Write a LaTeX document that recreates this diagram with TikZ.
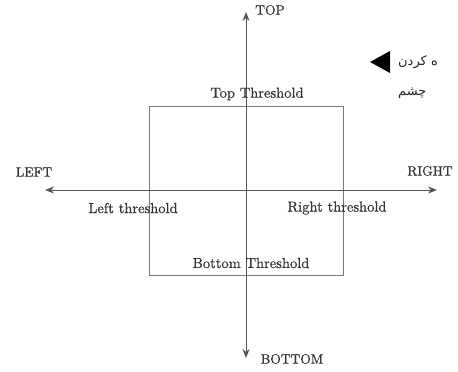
\documentclass[tikz,border=0pt]{standalone}
\usepackage{fontspec}
\usetikzlibrary{arrows.meta}
\TeXXeTstate=1
\newfontfamily\arabicfont[Script=Arabic]{DejaVu Sans}
\newfontfamily\lmheavy{lmroman10-regular.otf}[FakeBold=0.6]
\definecolor{axisgray}{HTML}{555555}
\definecolor{textgray}{HTML}{333333}
\begin{document}
\begin{tikzpicture}[x=1pt,y=-1pt,
  axis/.style={draw=axisgray,line width=1pt,-{Stealth[length=9pt,width=7pt]}},
  boxstyle/.style={draw=axisgray!80,line width=0.9pt,rectangle,minimum width=194pt,minimum height=169pt,inner sep=0pt},
  caplabel/.style={font=\lmheavy\fontsize{13.5}{16}\selectfont,text=textgray,inner sep=0pt},
  thlabel/.style={font=\lmheavy\fontsize{14.5}{17}\selectfont,text=textgray,inner sep=0pt},
  fatext/.style={font=\arabicfont\fontsize{13}{15}\selectfont,text=black!85,inner sep=0pt,anchor=west}]
\useasboundingbox (0,0) rectangle (458,372);
\clip (0,0) rectangle (458,372);
\fill[white] (0,0) rectangle (458,372);
% box
\node[boxstyle] (box) at (246,190.5) {};
% axes
\coordinate (c) at (246,190);
\coordinate (toptip) at (246,12);
\coordinate (bottomtip) at (246,358);
\coordinate (lefttip) at (45,190);
\coordinate (righttip) at (437,190);
\draw[axis] (c) -- (toptip);
\draw[axis] (c) -- (bottomtip);
\draw[axis] (c) -- (lefttip);
\draw[axis] (c) -- (righttip);
% axis labels
\node[caplabel] (top) at (270,10) {TOP};
\node[caplabel] (bottom) at (292,359) {BOTTOM};
\node[caplabel] (left) at (34,172) {LEFT};
\node[caplabel] (right) at (430,171) {RIGHT};
% threshold labels
\node[thlabel] (topth) at (257,94) {Top Threshold};
\node[thlabel] (bottomth) at (251,263) {Bottom Threshold};
\node[thlabel] (leftth) at (133,208) {Left threshold};
\node[thlabel] (rightth) at (337,208) {Right threshold};
% overlay fragment
\fill[black] (370,62) -- (390,51) -- (390,73) -- cycle;
\node[fatext] (fa1) at (398,62) {\beginR ه کردن\endR};
\node[fatext] (fa2) at (398,93) {\beginR چشم\endR};
\end{tikzpicture}
\end{document}
